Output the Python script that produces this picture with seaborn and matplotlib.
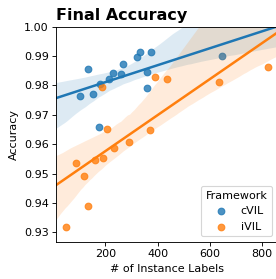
import matplotlib
matplotlib.use("Agg")
import matplotlib.pyplot as plt
import seaborn as sns
import pandas as pd

# values
cvil_labels = [104, 133, 151, 178, 213, 229, 258, 268, 320, 331, 359, 358, 376, 647, 177]
cvil_acc = [0.9765, 0.9856, 0.9771, 0.9803, 0.9822, 0.9841, 0.9837, 0.9871, 0.9896,
            0.9912, 0.9847, 0.9791, 0.9912, 0.9901, 0.9658]

ivil_labels = [187, 205, 389, 435, 372, 636, 821, 290, 232, 192, 160, 87, 120, 133, 51]
ivil_acc = [0.9793, 0.9652, 0.9827, 0.9821, 0.9648, 0.9812, 0.9862, 0.9607, 0.9586,
            0.9553, 0.9547, 0.9536, 0.9493, 0.9391, 0.9318]

frameworks = ["cVIL", "iVIL"]
colors = ["#1f77b4", "#ff7f0e"]

df = pd.DataFrame({
    "labels": cvil_labels + ivil_labels,
    "acc": cvil_acc + ivil_acc,
    "Framework": ["cVIL"] * len(cvil_labels) + ["iVIL"] * len(ivil_labels),
})

fig = plt.figure(figsize=(276 / 80, 279 / 80), dpi=80)
# right edge sits just past the image border, like the cropped original
ax = fig.add_axes([0.2047, 0.1337, 0.801, 0.771])

# fix the x range first so both fit lines run across the whole axis
ax.set_xlim(13, 859)

for fw, col in zip(frameworks, colors):
    sub = df[df["Framework"] == fw]
    sns.regplot(x="labels", y="acc", data=sub, ax=ax, color=col, label=fw,
                truncate=False, seed=3)

ax.set_xlim(13, 859)
ax.set_ylim(0.9268, 1.0)
ax.set_xticks([200, 400, 600, 800])
ax.set_xlabel("# of Instance Labels")
ax.set_ylabel("Accuracy")
ax.set_title("Final Accuracy", loc="left", fontsize=14.4, fontweight="bold")
ax.legend(title="Framework", loc="lower right")

fig.savefig("out.png", dpi=80)
